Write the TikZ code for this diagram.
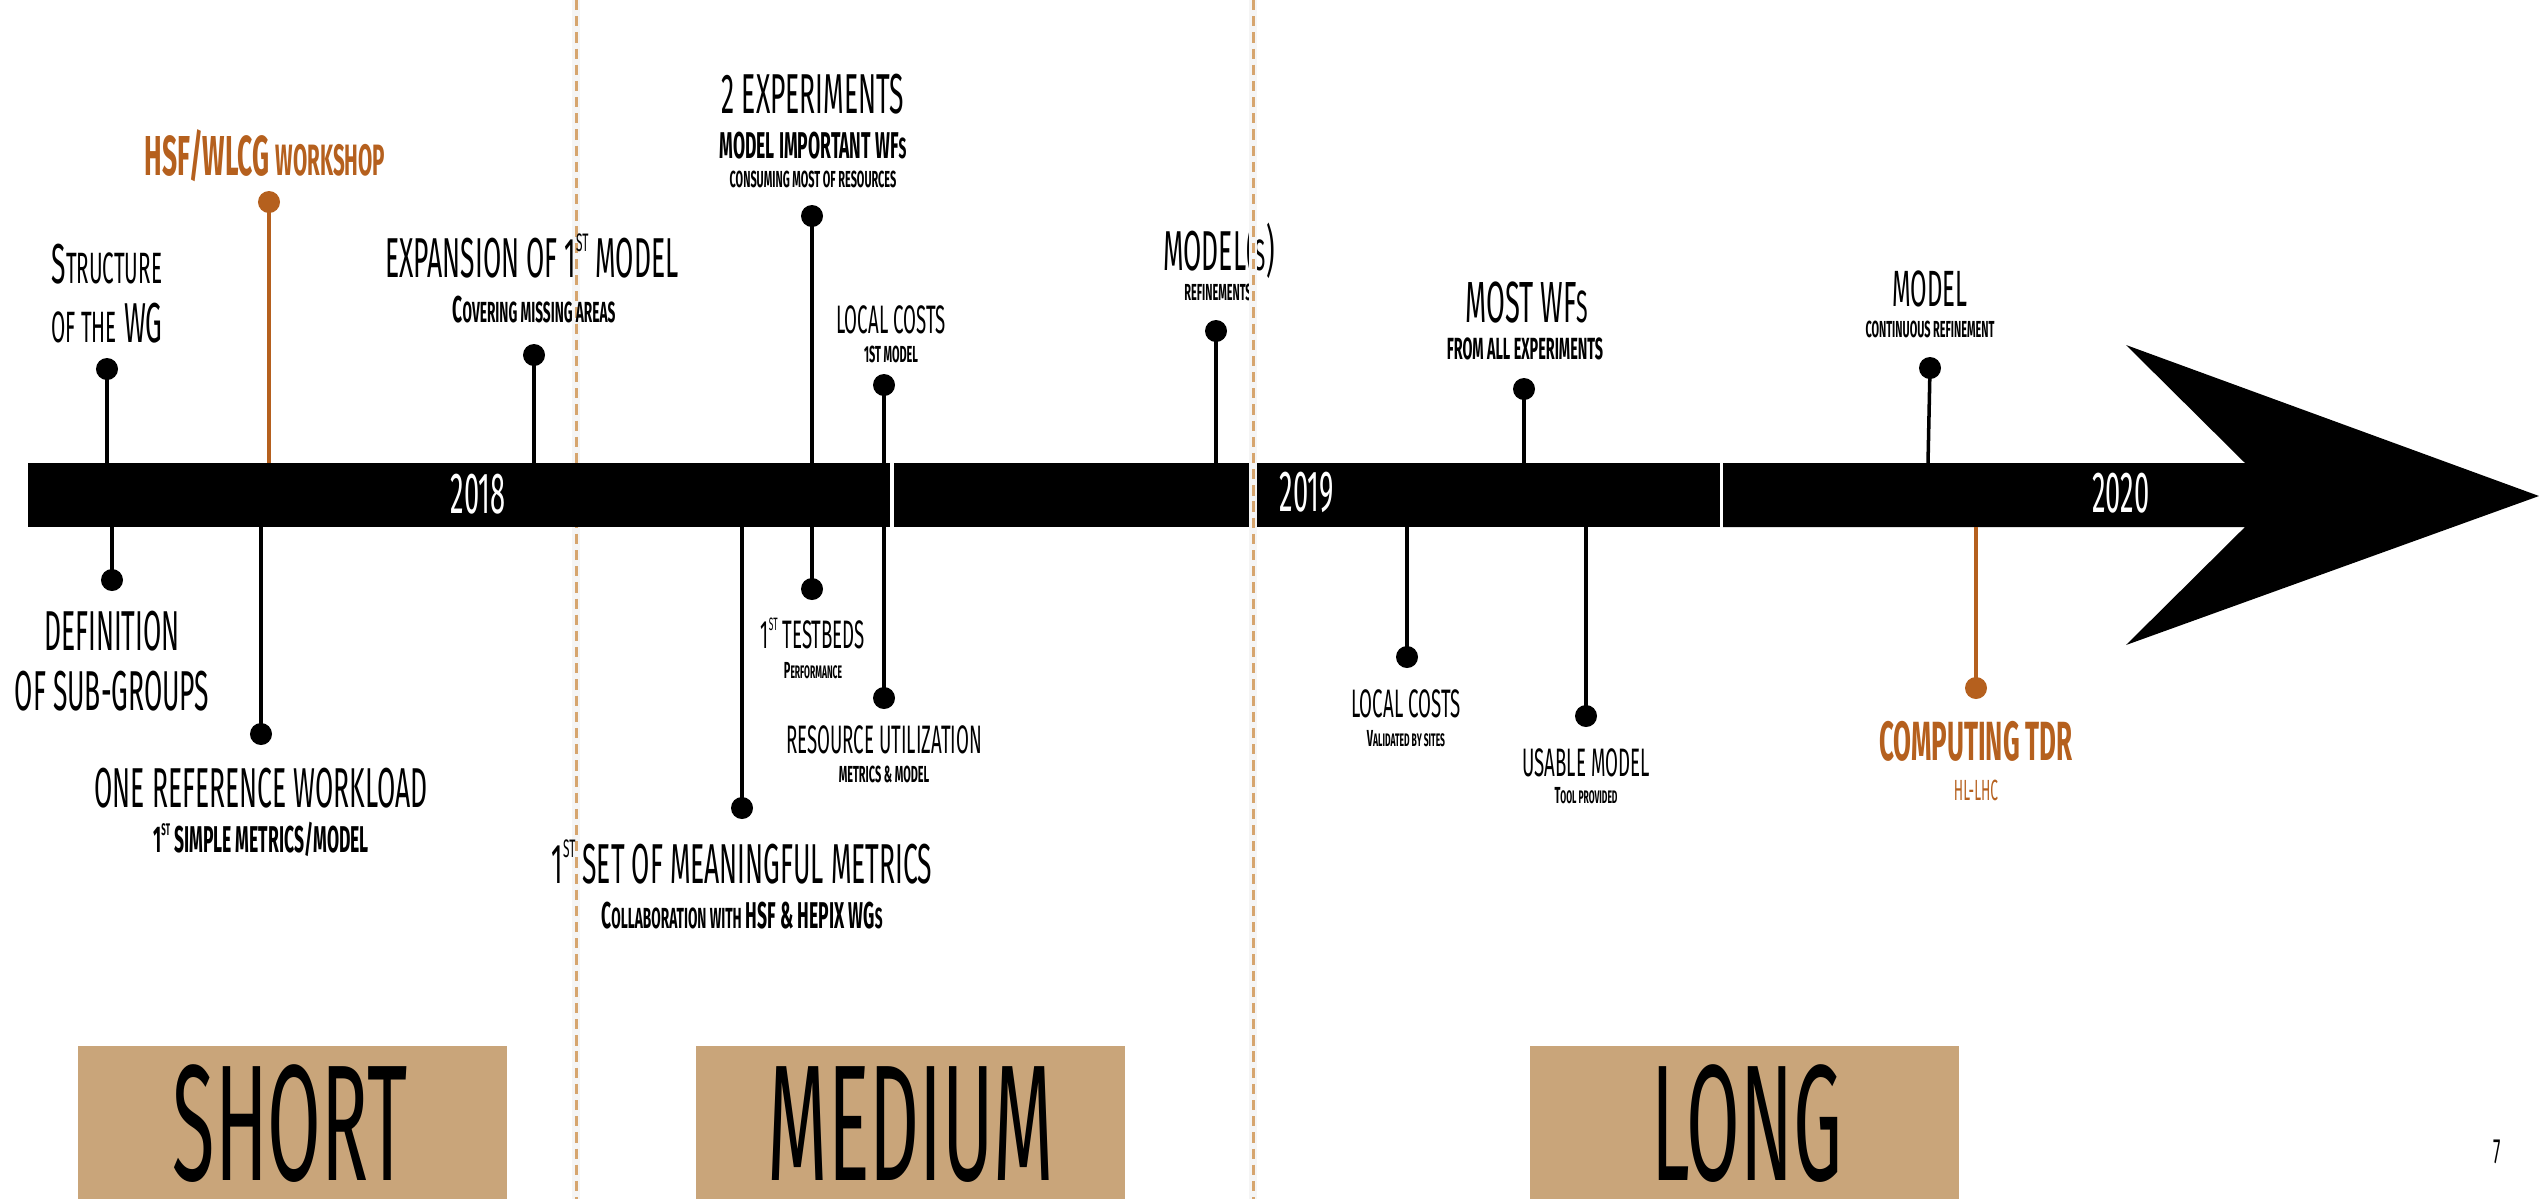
\documentclass[tikz,border=0pt]{standalone}
\usepackage{fontspec}
\usepackage{graphicx}
\newfontfamily\am{Fira Sans}[FakeStretch=0.47]
\definecolor{rust}{HTML}{B5601E}
\definecolor{tanbox}{HTML}{C9A57A}
\definecolor{tandash}{HTML}{D6A56E}
\newcommand\smc[1]{\scalebox{0.78}{#1}}
\newcommand\fsz[1]{\fontsize{#1}{#1}\selectfont}
\newcommand\supst{\raisebox{0.45em}{\scalebox{0.45}{ST}}}
\begin{document}
\begin{tikzpicture}[x=0.01cm,y=-0.01cm,
  dot/.style={circle,fill,inner sep=0pt,minimum size=0.22cm},
  pinline/.style={line width=1pt},
  lab/.style={inner sep=0pt,anchor=base},
  big/.style={lab,font={\am\fsz{16}}},
  mid/.style={lab,font={\am\fsz{11.3}}},
  midb/.style={lab,font={\am\bfseries\fsz{10.6}}},
  tiny/.style={lab,font={\am\bfseries\fsz{6.6}}},
  year/.style={lab,text=white,font={\am\fsz{16.5}}},
  term/.style={lab,text height=33pt,text depth=0pt,font={\am\fsz{47}}},
  divider/.style={tandash,line width=0.85pt,dash pattern=on 2.9pt off 1.7pt},
  shade/.style={black!4,line width=2.5pt}]
\useasboundingbox (0,0) rectangle (2539,1199);

% divider 1 (behind bar)
\coordinate (v1t) at (576,0); \coordinate (v1b) at (576,1199);
\draw[shade] (v1t) -- (v1b);
\draw[divider] (v1t) -- (v1b);

% timeline bar
\fill (28,463) rectangle (890,527);
\fill (894,463) rectangle (1720,527);
\fill (1723,463) -- (2245,463) -- (2126,345) -- (2539,496) -- (2126,645) -- (2245,527) -- (1723,527) -- cycle;

% pins above
\node[dot,rust] (hsf) at (269,202) {}; \coordinate (hsfb) at (269,463);
\draw[pinline,rust] (hsf.center) -- (hsfb);
\node[dot] (str) at (107,369) {}; \coordinate (strb) at (107,463);
\draw[pinline] (str.center) -- (strb);
\node[dot] (exp) at (534,355) {}; \coordinate (expb) at (534,463);
\draw[pinline] (exp.center) -- (expb);
\node[dot] (twoexp) at (812,216) {}; \coordinate (twoexpb) at (812,463);
\draw[pinline] (twoexp.center) -- (twoexpb);
\node[dot] (lc1) at (884,385) {}; \coordinate (lc1b) at (884,463);
\draw[pinline] (lc1.center) -- (lc1b);
\node[dot] (mods) at (1216,331) {}; \coordinate (modsb) at (1216,463);
\draw[pinline] (mods.center) -- (modsb);
\node[dot] (most) at (1524,389) {}; \coordinate (mostb) at (1524,463);
\draw[pinline] (most.center) -- (mostb);
\node[dot] (mod20) at (1930,368) {}; \coordinate (mod20b) at (1928,463);
\draw[pinline] (mod20.center) -- (mod20b);

% pins below
\coordinate (defb) at (112,527); \node[dot] (def) at (112,580) {};
\draw[pinline] (defb) -- (def.center);
\coordinate (oneb) at (261,527); \node[dot] (one) at (261,734) {};
\draw[pinline] (oneb) -- (one.center);
\coordinate (setb) at (742,527); \node[dot] (set) at (742,808) {};
\draw[pinline] (setb) -- (set.center);
\coordinate (tbb) at (812,527); \node[dot] (tb) at (812,589) {};
\draw[pinline] (tbb) -- (tb.center);
\coordinate (resb) at (884,527); \node[dot] (res) at (884,698) {};
\draw[pinline] (resb) -- (res.center);
\coordinate (lc2b) at (1407,527); \node[dot] (lc2) at (1407,657) {};
\draw[pinline] (lc2b) -- (lc2.center);
\coordinate (useb) at (1586,527); \node[dot] (use) at (1586,716) {};
\draw[pinline] (useb) -- (use.center);
\coordinate (tdrb) at (1976,527); \node[dot,rust] (tdr) at (1976,688) {};
\draw[pinline,rust] (tdrb) -- (tdr.center);

% years
\node[year] (y18) at (478,513) {2018};
\node[year] (y19) at (1307,511) {2019};
\node[year] (y20) at (2121,512) {2020};

% labels above
\node[lab,text=rust,font={\am\bfseries\fsz{16}}] (t-hsf) at (265,175) {HSF/WLCG \smc{WORKSHOP}};
\node[big] (t-str1) at (107,283) {S\smc{TRUCTURE}};
\node[big] (t-str2) at (107,342) {\smc{OF THE} WG};
\node[big] (t-exp1) at (532,277) {EXPANSION OF 1\supst{} MODEL};
\node[midb] (t-exp2) at (534,322) {C\smc{OVERING MISSING AREAS}};
\node[big] (t-two1) at (813,113) {2 EXPERIMENTS};
\node[midb] (t-two2) at (813,158) {MODEL IMPORTANT WF\smc{S}};
\node[tiny] (t-two3) at (813,187) {CONSUMING MOST OF RESOURCES};
\node[mid] (t-lc1a) at (891,333) {LOCAL COSTS};
\node[tiny] (t-lc1b) at (891,362) {1ST MODEL};
\node[big] (t-mods1) at (1219,270) {MODEL(\smc{S})};
\node[tiny] (t-mods2) at (1218,300) {REFINEMENTS};
\node[lab,font={\am\fsz{16.5}}] (t-most1) at (1527,322) {MOST WF\smc{S}};
\node[lab,font={\am\bfseries\fsz{8.7}}] (t-most2) at (1525,359) {FROM ALL EXPERIMENTS};
\node[lab,font={\am\fsz{14.5}}] (t-mod20a) at (1930,306) {MODEL};
\node[tiny] (t-mod20b) at (1930,337) {CONTINUOUS REFINEMENT};

% labels below
\node[big] (t-def1) at (112,650) {DEFINITION};
\node[big] (t-def2) at (112,710) {OF SUB-GROUPS};
\node[big] (t-one1) at (261,807) {ONE REFERENCE WORKLOAD};
\node[midb] (t-one2) at (261,852) {1\supst{} SIMPLE METRICS/MODEL};
\node[big] (t-set1) at (742,883) {1\supst{} SET OF MEANINGFUL METRICS};
\node[midb] (t-set2) at (742,928) {C\smc{OLLABORATION WITH} HSF \& HEPIX WG\smc{S}};
\node[mid] (t-tb1) at (813,648) {1\supst{} TESTBEDS};
\node[tiny] (t-tb2) at (813,678) {P\smc{ERFORMANCE}};
\node[mid] (t-res1) at (884,753) {RESOURCE UTILIZATION};
\node[tiny] (t-res2) at (884,782) {METRICS \& MODEL};
\node[mid] (t-lc2a) at (1406,717) {LOCAL COSTS};
\node[tiny] (t-lc2b) at (1406,746) {V\smc{ALIDATED BY SITES}};
\node[mid] (t-use1) at (1586,776) {USABLE MODEL};
\node[tiny] (t-use2) at (1586,803) {T\smc{OOL PROVIDED}};
\node[lab,text=rust,font={\am\bfseries\fsz{15.7}}] (t-tdr1) at (1976,760) {COMPUTING TDR};
\node[lab,text=rust,font={\am\fsz{8.3}}] (t-tdr2) at (1976,800) {HL-LHC};

% term boxes
\fill[tanbox] (78,1046) rectangle (507,1199);
\fill[tanbox] (696,1046) rectangle (1125,1199);
\fill[tanbox] (1530,1046) rectangle (1959,1199);
\node[term] (short) at (290,1180) {SHORT};
\node[term] (medium) at (911,1180) {MEDIUM};
\node[term] (long) at (1747,1180) {LONG};

% page number
\node[lab,font={\am\fsz{10}}] (pg) at (2497,1163) {7};

% divider 2 (over bar)
\coordinate (v2t) at (1253,0); \coordinate (v2b) at (1253,1199);
\draw[shade] (v2t) -- (v2b);
\draw[divider] (v2t) -- (v2b);
\end{tikzpicture}
\end{document}
